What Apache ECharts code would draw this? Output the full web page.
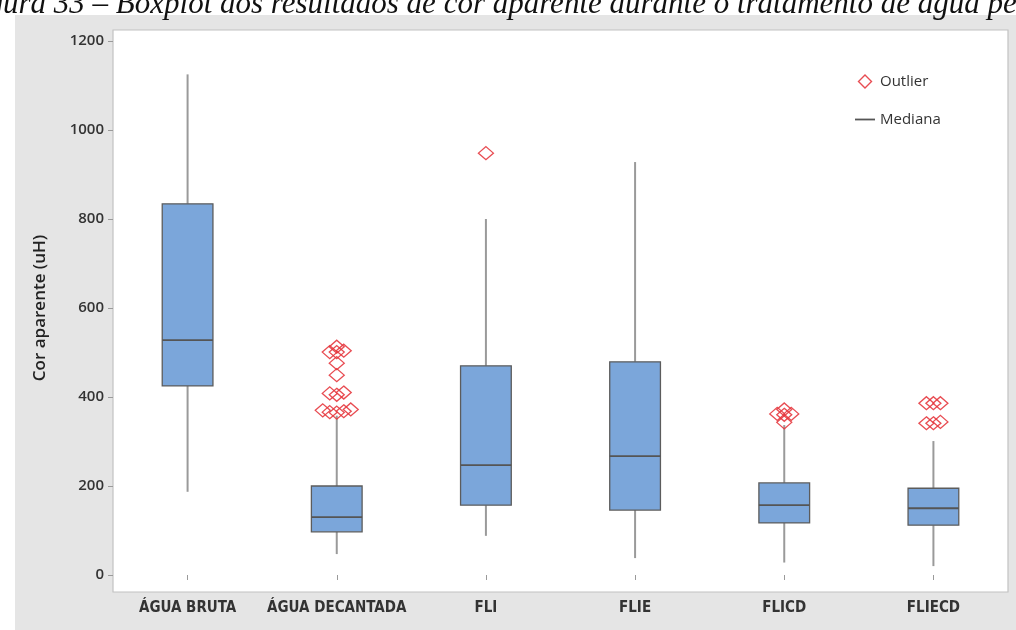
<!DOCTYPE html>
<html>
<head>
<meta charset="utf-8">
<script src="https://cdn.jsdelivr.net/npm/echarts@6/dist/echarts.min.js"></script>
<style>
  html, body { margin: 0; padding: 0; background: #ffffff; }
  #chart { width: 1016px; height: 630px; }
</style>
</head>
<body>
<div id="chart"></div>
<script>
// Cor aparente (uH) by treatment stage
const categories = ['ÁGUA BRUTA', 'ÁGUA DECANTADA', 'FLI', 'FLIE', 'FLICD', 'FLIECD'];
const whiskerLow  = [187, 47, 88, 38, 28, 20];
const quartile1   = [425, 97, 157, 146, 117, 112];
const medians     = [528, 130, 247, 267, 157, 150];
const quartile3   = [834, 200, 470, 479, 207, 195];
const whiskerHigh = [1125, 358, 800, 928, 337, 301];
const outliers = [
  [],
  [365, 366, 368, 370, 372, 405, 408, 410, 449, 476, 501, 501, 504, 513],
  [948],
  [],
  [343, 360, 362, 362, 372],
  [341, 341, 344, 386, 386, 386]
];
const yTickValues = [0, 200, 400, 600, 800, 1000, 1200];

const boxFill = '#7ba6da';
const boxEdge = '#5c5c5c';
const whiskerColor = '#9a9a9a';
const outlierColor = '#e5383f';

// Near-equal outliers are set side by side, like tied points in a boxplot.
const TIE = 8;
const SLOT_PX = 7;
function spreadTies(values) {
  const placed = [];
  return values.slice().sort((a, b) => a - b).map(v => {
    for (const s of [0, -1, 1, -2, 2, -3, 3, -4, 4]) {
      if (!placed.some(p => p.s === s && Math.abs(p.v - v) < TIE)) {
        placed.push({ v, s });
        return { v, s };
      }
    }
    return { v, s: 0 };
  });
}

const boxData = categories.map((c, i) =>
  [i, whiskerLow[i], quartile1[i], medians[i], quartile3[i], whiskerHigh[i]]);

const outlierData = [];
outliers.forEach((vals, i) => {
  spreadTies(vals).forEach(p => {
    outlierData.push({ value: [i, p.v], symbolOffset: [p.s * SLOT_PX, 0] });
  });
});

function renderBox(params, api) {
  const idx = api.value(0);
  const pLow = api.coord([idx, api.value(1)]);
  const pQ1 = api.coord([idx, api.value(2)]);
  const pMed = api.coord([idx, api.value(3)]);
  const pQ3 = api.coord([idx, api.value(4)]);
  const pHigh = api.coord([idx, api.value(5)]);
  const half = api.size([1, 0])[0] * 0.17;
  const x = pMed[0];
  return {
    type: 'group',
    children: [
      { type: 'line', shape: { x1: x, y1: pLow[1], x2: x, y2: pQ1[1] },
        style: { stroke: whiskerColor, lineWidth: 2 } },
      { type: 'line', shape: { x1: x, y1: pQ3[1], x2: x, y2: pHigh[1] },
        style: { stroke: whiskerColor, lineWidth: 2 } },
      { type: 'rect', shape: { x: x - half, y: pQ3[1], width: 2 * half, height: pQ1[1] - pQ3[1] },
        style: { fill: boxFill, stroke: boxEdge, lineWidth: 1.3 } },
      { type: 'line', shape: { x1: x - half, y1: pMed[1], x2: x + half, y2: pMed[1] },
        style: { stroke: '#555555', lineWidth: 1.8 } }
    ]
  };
}

const GRID = { left: 113, right: 8, top: 41, bottom: 55 };

const chart = echarts.init(document.getElementById('chart'), null, { renderer: 'canvas' });
chart.setOption({
  animation: false,
  backgroundColor: '#ffffff',
  graphic: [
    { type: 'text', left: -40, top: -11, z: 0,
      style: { text: 'Figura 33 – Boxplot dos resultados de cor aparente durante o tratamento de água pelo sistema',
               font: 'italic 31px "Liberation Serif", serif', fill: '#111111' } },
    { type: 'rect', z: -10, shape: { x: 15, y: 15, width: 1001, height: 615 },
      style: { fill: '#e5e5e5' } },
    { type: 'rect', z: -9, shape: { x: 113, y: 30, width: 1016 - 8 - 113, height: 562 },
      style: { fill: '#ffffff', stroke: '#c2c2c2', lineWidth: 1.2 } }
  ],
  grid: GRID,
  legend: {
    orient: 'vertical',
    left: 850,
    top: 69,
    itemGap: 23,
    itemWidth: 20,
    itemHeight: 13,
    selectedMode: false,
    textStyle: { fontFamily: '"Open Sans", sans-serif', fontSize: 15, color: '#333333' },
    data: [
      { name: 'Outlier', icon: 'path://M6,0L12,6L6,12L0,6Z',
        itemStyle: { color: 'transparent', borderColor: outlierColor, borderWidth: 1.4 } },
      { name: 'Mediana', icon: 'path://M0,0H20V1.8H0Z',
        itemStyle: { color: '#555555', borderWidth: 0 } }
    ]
  },
  xAxis: {
    type: 'category',
    data: categories,
    offset: 17,
    axisLine: { show: false },
    axisTick: { show: true, interval: 0, alignWithLabel: true, length: 5, lineStyle: { color: '#9a9a9a' } },
    axisLabel: {
      interval: 0,
      margin: 9,
      fontFamily: '"Liberation Sans Narrow", "DejaVu Sans Condensed", sans-serif',
      fontWeight: 'bold',
      fontSize: 15,
      color: '#333333'
    }
  },
  yAxis: {
    type: 'value',
    min: yTickValues[0],
    max: yTickValues[yTickValues.length - 1],
    interval: yTickValues[1] - yTickValues[0],
    name: 'Cor aparente (uH)',
    nameLocation: 'middle',
    nameGap: 64,
    nameTextStyle: { fontFamily: '"Open Sans", sans-serif', fontSize: 17, fontWeight: 600, color: '#222222' },
    axisLine: { show: false },
    axisTick: { show: true, length: 5, lineStyle: { color: '#9a9a9a' } },
    splitLine: { show: false },
    axisLabel: {
      margin: 9,
      formatter: v => String(v),
      fontFamily: '"Open Sans", sans-serif',
      fontWeight: 600,
      fontSize: 15,
      color: '#333333'
    }
  },
  series: [
    {
      name: 'Mediana',
      type: 'custom',
      renderItem: renderBox,
      encode: { x: 0, y: [1, 2, 3, 4, 5] },
      data: boxData,
      z: 2
    },
    {
      name: 'Outlier',
      type: 'scatter',
      symbol: 'diamond',
      symbolSize: [15, 13],
      itemStyle: { color: 'rgba(255,255,255,0)', borderColor: outlierColor, borderWidth: 1.3, opacity: 0.9 },
      data: outlierData,
      z: 3
    }
  ]
});
</script>
</body>
</html>
